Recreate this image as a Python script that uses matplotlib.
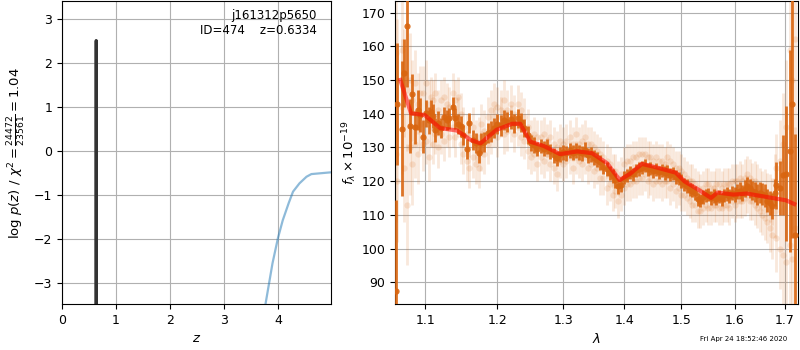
"""
Redshift fit summary: log p(z) on the left, 1D spectrum with best-fit model on the right
"""

import numpy as np
import matplotlib.pyplot as plt
from matplotlib.ticker import NullLocator, FixedLocator, FixedFormatter

# p(z) panel
z_peak = [0.628, 0.6334, 0.639]
logp_peak = [-9.0, 2.52, -9.0]

z_tail = [3.70, 3.77, 3.90, 4.00, 4.09, 4.20, 4.28, 4.40, 4.53, 4.62, 4.80, 4.98]
logp_tail = [-4.3, -3.48, -2.55, -1.98, -1.57, -1.18, -0.92, -0.73, -0.58, -0.52, -0.50, -0.48]

# spectrum panel: binned points
wave = [
    1.0620, 1.0624, 1.0693, 1.0724, 1.0754, 1.0797, 1.0823, 1.0858, 1.0902, 1.0928,
    1.0964, 1.1008, 1.1044, 1.1075, 1.1107, 1.1134, 1.1165, 1.1210, 1.1256, 1.1288,
    1.1324, 1.1370, 1.1407, 1.1443, 1.1485, 1.1518, 1.1564, 1.1602, 1.1649, 1.1695,
    1.1734, 1.1767, 1.1815, 1.1863, 1.1910, 1.1959,
    1.200, 1.205, 1.210, 1.215, 1.220, 1.225, 1.230, 1.235, 1.240, 1.245,
    1.250, 1.255, 1.260, 1.265, 1.270, 1.275, 1.280, 1.285, 1.290, 1.295,
    1.300, 1.305, 1.310, 1.315, 1.320, 1.325, 1.330, 1.335, 1.340, 1.345,
    1.350, 1.355, 1.360, 1.365, 1.370, 1.375, 1.380, 1.385, 1.390, 1.395,
    1.400, 1.405, 1.410, 1.415, 1.420, 1.425, 1.430, 1.435, 1.440, 1.445,
    1.450, 1.455, 1.460, 1.465, 1.470, 1.475, 1.480, 1.485, 1.490, 1.495,
    1.500, 1.505, 1.510, 1.515, 1.520, 1.525, 1.530, 1.535, 1.540, 1.545,
    1.550, 1.555, 1.560, 1.565, 1.570, 1.575, 1.580, 1.585, 1.590, 1.595,
    1.600, 1.605, 1.610, 1.615, 1.620, 1.625, 1.630, 1.635, 1.640, 1.645,
    1.650, 1.655, 1.660, 1.665, 1.670, 1.675,
    1.680, 1.6831, 1.6899, 1.6967, 1.7038, 1.7106, 1.7153, 1.7210,
]

flux = [
    87.5, 142.9, 135.5, 152.1, 166.0, 136.4, 145.7, 135.9, 141.1, 139.6,
    133.2, 140.1, 138.1, 140.6, 139.3, 135.2, 137.2, 135.7, 139.1, 138.1,
    138.6, 141.9, 138.6, 137.0, 136.2, 133.7, 129.5, 137.2, 132.2, 131.4,
    128.3, 131.2, 131.7, 134.2, 134.7, 135.7,
    137.0, 136.5, 138.2, 137.6, 138.4, 137.2, 138.6, 137.5, 135.8, 133.6,
    131.2, 130.6, 129.5, 130.4, 129.6, 130.2, 128.9, 127.6, 126.8, 127.9,
    128.5, 128.2, 129.1, 128.4, 129.0, 128.6, 128.2, 129.3, 127.6, 127.9,
    126.9, 126.4, 125.6, 124.2, 123.6, 122.4, 121.5, 120.2, 118.4, 118.9,
    121.0, 121.6, 122.5, 122.0, 123.2, 123.6, 124.0, 124.6, 123.5, 123.8,
    122.9, 123.4, 122.6, 123.1, 122.4, 122.8, 121.9, 122.3, 121.2, 120.8,
    120.0, 119.0, 118.6, 117.5, 117.2, 116.4, 114.6, 114.2, 115.3, 115.8,
    116.1, 115.0, 115.6, 114.8, 115.4, 114.6, 115.8, 116.2, 115.6, 116.5,
    116.0, 116.8, 117.2, 116.5, 117.8, 118.6, 117.9, 117.2, 116.8, 116.0,
    116.6, 116.2, 115.8, 114.2, 113.6, 112.6,
    116.5, 118.8, 118.0, 121.8, 122.2, 129.0, 143.0, 104.0,
]

flux_err = [
    27, 18, 20, 10, 18, 8, 6, 5, 6, 5,
    5, 4, 4, 3.5, 3.5, 3.5, 3.5, 3, 3, 3,
    3, 3, 3, 3, 3, 3, 3, 3, 3, 3,
    3, 3, 3, 3, 3, 3,
    3, 3, 3, 3, 2.8, 2.8, 2.8, 2.8, 2.6, 2.6,
    2.4, 2.4, 2.2, 2.2, 2.2, 2.2, 2.2, 2.2, 2.2, 2.2,
    2.2, 2.2, 2.2, 2.2, 2.2, 2.2, 2.2, 2.2, 2.2, 2.2,
    2.2, 2.2, 2.2, 2.2, 2.2, 2.2, 2.2, 2.2, 2.2, 2.2,
    2.0, 2.0, 2.0, 2.0, 2.0, 2.0, 2.0, 2.0, 2.0, 2.0,
    2.0, 2.0, 2.0, 2.0, 2.0, 2.0, 2.0, 2.0, 2.0, 2.0,
    2.0, 2.0, 2.0, 2.0, 2.0, 2.0, 2.0, 2.0, 2.0, 2.0,
    2.0, 2.0, 2.0, 2.0, 2.0, 2.0, 2.0, 2.0, 2.0, 2.0,
    2.2, 2.2, 2.4, 2.4, 2.6, 2.6, 2.8, 2.8, 3.0, 3.0,
    3.2, 3.2, 3.4, 3.4, 3.6, 3.8,
    4, 7, 8, 12, 20, 30, 40, 30,
]

# individual exposures (two per bin)
flux_exp_a = [
    128, 150, 159, 124, 147, 130, 144, 149, 128, 137,
    146, 132, 143, 136, 131, 146, 141, 134, 145, 136,
    142, 146, 133, 139, 131, 128, 126, 124, 127, 125,
    133, 129, 135, 139, 141, 143,
    142, 139, 144, 135, 143, 140, 143, 141, 139, 136,
    133, 128, 133, 127, 134, 128, 133, 124, 130, 132,
    125, 132, 127, 131, 134, 126, 132, 127, 131, 125,
    130, 124, 128, 121, 126, 119, 123, 117, 114, 116,
    125, 119, 126, 120, 127, 121, 128, 122, 127, 121,
    126, 120, 126, 119, 125, 120, 126, 119, 124, 118,
    123, 116, 121, 114, 120, 113, 118, 111, 118, 113,
    119, 112, 118, 113, 119, 112, 119, 113, 119, 114,
    120, 114, 121, 114, 121, 116, 121, 114, 120, 112,
    118, 110, 117, 108, 115, 104,
    111, 103, 126, 98, 136, 159, 150, 162,
]

flux_exp_b = [
    158, 120, 142, 149, 113, 150, 125, 131, 143, 146,
    131, 149, 127, 145, 144, 134, 130, 144, 132, 143,
    133, 136, 144, 145, 140, 136, 134, 133, 136, 132,
    124, 137, 128, 131, 134, 136,
    133, 141, 134, 141, 137, 134, 136, 133, 132, 129,
    127, 134, 125, 133, 126, 132, 125, 131, 122, 126,
    131, 126, 133, 124, 127, 131, 125, 133, 124, 131,
    123, 129, 121, 127, 118, 125, 116, 123, 121, 122,
    118, 126, 119, 127, 120, 128, 121, 128, 120, 127,
    119, 127, 120, 126, 120, 127, 118, 125, 117, 124,
    116, 122, 115, 120, 113, 119, 111, 117, 112, 119,
    112, 118, 113, 119, 112, 118, 113, 119, 112, 120,
    113, 120, 114, 120, 115, 122, 114, 120, 113, 119,
    111, 117, 109, 116, 106, 114,
    120, 124, 100, 131, 96, 101, 97, 106,
]

exp_err = [
    20, 18, 20, 16, 18, 14, 12, 10, 9, 8,
    8, 7, 7, 6, 6, 6, 6, 6, 6, 6,
    6, 6, 6, 6, 6, 6, 6, 6, 6, 6,
    6, 6, 6, 6, 6, 6,
    6, 6, 6, 6, 5.5, 5.5, 5.5, 5.5, 5.5, 5.5,
    5, 5, 5, 5, 5, 5, 5, 5, 5, 5,
    5, 5, 5, 5, 5, 5, 5, 5, 5, 5,
    5, 5, 5, 5, 5, 5, 5, 5, 5, 5,
    5, 5, 5, 5, 5, 5, 5, 5, 5, 5,
    5, 5, 5, 5, 5, 5, 5, 5, 5, 5,
    5, 5, 5, 5, 5, 5, 5, 5, 5, 5,
    5, 5, 5, 5, 5, 5, 5, 5, 5, 5,
    5, 5, 5, 5, 5.5, 5.5, 5.5, 5.5, 6, 6,
    6, 6, 6.5, 6.5, 7, 7,
    8, 10, 12, 15, 20, 25, 30, 30,
]

# best-fit template
model_wave = [1.067, 1.081, 1.099, 1.120, 1.143, 1.162, 1.176, 1.199, 1.222, 1.234,
              1.249, 1.270, 1.295, 1.322, 1.346, 1.371, 1.392, 1.410, 1.430, 1.450,
              1.490, 1.506, 1.530, 1.555, 1.567, 1.598, 1.624, 1.663, 1.703, 1.720]
model_flux = [150.0, 140.1, 139.6, 135.7, 135.0, 132.2, 131.2, 135.2, 137.0, 137.0,
              131.7, 130.4, 128.0, 128.8, 128.3, 125.3, 120.3, 122.2, 125.1, 124.3,
              122.5, 119.9, 117.6, 115.0, 116.6, 116.0, 116.3, 115.3, 114.3, 113.2]

wave_ticks = [1.1, 1.2, 1.3, 1.4, 1.5, 1.6, 1.7]
flux_ticks = [90, 100, 110, 120, 130, 140, 150, 160, 170]

orange = '#d9650f'

fig = plt.figure(figsize=(8, 3.5), dpi=100)
ax1 = fig.add_axes([0.0775, 0.131, 0.336, 0.865])
ax2 = fig.add_axes([0.494, 0.131, 0.503, 0.865])

# --- p(z)
ax1.plot(z_peak, logp_peak, color='#333333', lw=2.2)
ax1.plot(z_tail, logp_tail, color='tab:blue', alpha=0.5, lw=1.6)
ax1.set_xlim(0, 4.98)
ax1.set_ylim(-3.48, 3.41)
ax1.set_xticks([0, 1, 2, 3, 4])
ax1.set_yticks([-3, -2, -1, 0, 1, 2, 3])
ax1.grid(True)
ax1.tick_params(labelsize=9)
ax1.set_xlabel('$z$', fontsize=9.5)
ax1.set_ylabel(r'log $p(z)$ / $\chi^2=\frac{24472}{23561}=1.04$', fontsize=9.5)
ax1.text(0.948, 0.975, 'j161312p5650\nID=474    z=0.6334',
         transform=ax1.transAxes, ha='right', va='top', fontsize=8.5)

# --- spectrum
ax2.errorbar(wave, flux_exp_a, yerr=exp_err, fmt='o', color=orange, alpha=0.15,
             ms=4.5, elinewidth=2, capsize=0, mew=0)
ax2.errorbar(wave, flux_exp_b, yerr=exp_err, fmt='o', color=orange, alpha=0.15,
             ms=4.5, elinewidth=2, capsize=0, mew=0)
ax2.errorbar(wave, flux, yerr=flux_err, fmt='o', color=orange, alpha=0.9,
             ms=4.5, elinewidth=2, capsize=0, mew=0, zorder=3)
ax2.plot(model_wave, model_flux, color='red', alpha=0.55, lw=3, zorder=4)

ax2.set_xscale('log')
ax2.set_xlim(1.0605, 1.727)
ax2.set_ylim(83.5, 173.3)
ax2.xaxis.set_major_locator(FixedLocator(wave_ticks))
ax2.xaxis.set_major_formatter(FixedFormatter([f'{w:.1f}' for w in wave_ticks]))
ax2.xaxis.set_minor_locator(NullLocator())
ax2.set_yticks(flux_ticks)
ax2.grid(True)
ax2.tick_params(labelsize=9)
ax2.set_xlabel(r'$\lambda$', fontsize=9.5)
ax2.set_ylabel(r'$f_\lambda\times10^{-19}$', fontsize=9.5, labelpad=2)

fig.text(0.93, 0.031, 'Fri Apr 24 18:52:46 2020', ha='center', va='center', fontsize=5)

plt.savefig('out.png', dpi=100)
plt.close()
